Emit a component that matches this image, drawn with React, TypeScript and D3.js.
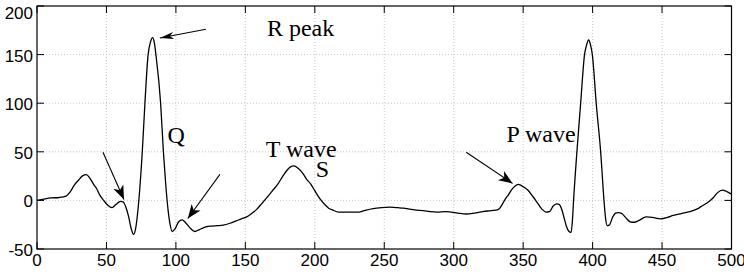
import React from "react";
import * as d3 from "d3";

// sample index and amplitude
const sampleX = [
  0, 4, 10, 16, 21, 24, 27, 30, 33, 35.5, 38, 41, 43, 45, 48, 51, 54, 57, 60, 62,
  64, 66, 68, 69.5, 71, 73, 75.8, 77.7, 80, 81.7, 83.2, 84.5, 85.6, 89, 91, 92.5,
  94, 95.5, 97.4, 99.5, 102, 104.5, 107, 110, 113.5, 117, 120, 124.5, 130, 134,
  139, 143.5, 148, 151, 155, 158, 162, 165, 169, 173.5, 177, 180, 182.5, 185, 188,
  191.5, 194, 197, 200, 203.5, 207, 210, 213, 217, 220, 226, 232, 237, 242, 248,
  254, 260, 264, 268, 273, 278, 283, 288, 294, 298, 303, 309, 315, 321, 327, 332,
  335, 337, 339.5, 341.5, 344, 346.5, 349, 353.5, 357, 360.5, 363.5, 366.5, 369,
  371.5, 374, 376, 377.5, 379.5, 381, 383, 384.5, 385.5, 386.3, 388.7, 391.4,
  394.2, 395.7, 397.1, 398.5, 399.8, 402.6, 405.8, 408.2, 409.3, 410.5, 412,
  414.5, 416.5, 418.5, 421, 424, 427, 430, 433.5, 438.5, 443, 449, 454, 458, 464,
  470, 475, 479, 484, 487, 490, 493.5, 496, 498, 500,
];
const sampleY = [
  0, 1, 2.5, 3, 4.5, 9, 16, 21, 25.5, 26.5, 23, 16, 12, 6, 0, -5, -7.5, -4, -1,
  -1.5, -7, -17, -30, -35, -29, -5, 50, 100, 150, 163, 167.5, 162, 150, 100, 50,
  20, -5, -22, -32, -29, -22, -20, -23, -28, -32, -30, -28, -26.5, -26, -25.5,
  -23.5, -21, -18.5, -17, -13, -9.5, -3, 2, 9, 17, 25, 31, 34.5, 35.5, 33, 27.5,
  22, 17, 10, 2, -4, -8, -10, -12, -12, -12, -12, -10, -8.5, -7.5, -7, -7.5, -8,
  -9, -10, -10.5, -11.5, -12, -11.5, -12, -13, -14, -13, -11.5, -10.5, -9.5, -4,
  1, 6, 10.5, 14.5, 16.5, 15, 10.5, 4, -3, -9, -12, -11.5, -6, -3.5, -4, -8, -18,
  -26, -32, -33, -20, 0, 50, 100, 150, 160, 165, 160, 150, 100, 50, 0, -18, -26,
  -25.5, -17, -13, -12.5, -13.5, -18, -22, -22.5, -20.5, -17, -17.5, -19, -17.5,
  -15.5, -13.5, -11.5, -9, -5.5, -1, 3, 8, 10.5, 9.5, 8, 6.5,
];

const xTicks = [0, 50, 100, 150, 200, 250, 300, 350, 400, 450, 500];
const yTicks = [-50, 0, 50, 100, 150, 200];

// text annotations, data coords (baseline left)
const labels = ["R peak", "Q", "T wave", "S", "P wave"];
const labelX = [165.5, 94, 164.7, 200.7, 338];
const labelY = [169, 58.8, 44.3, 23.7, 59.8];

// arrows: tail -> tip, data coords
const arrowFromX = [121.6, 47.5, 131.7, 309];
const arrowFromY = [176, 49.5, 26.8, 49.5];
const arrowToX = [88.5, 62.6, 108.6, 342.4];
const arrowToY = [167, 1, -18.6, 17.5];
const arrowHeadW = [3.5, 5.5, 5.5, 5.5];

const W = 744;
const H = 276;

export default function App() {
  const x = d3.scaleLinear().domain([0, 500]).range([37, 731.5]);
  const y = d3.scaleLinear().domain([-50, 200]).range([249, 6]);

  const points = sampleX.map((v, i) => [v, sampleY[i]] as [number, number]);
  const line = d3
    .line<[number, number]>()
    .curve(d3.curveMonotoneX)
    .x((d) => x(d[0]))
    .y((d) => y(d[1]));

  const [x0, x1] = x.range();
  const [y0, y1] = y.range();
  const tickLen = 7;

  // arrow head polygon
  const arrowHead = (tx, ty, fx, fy, hw) => {
    const a = Math.atan2(ty - fy, tx - fx);
    const len = 14;
    const bx = tx - len * Math.cos(a);
    const by = ty - len * Math.sin(a);
    const nx = tx - len * 0.72 * Math.cos(a);
    const ny = ty - len * 0.72 * Math.sin(a);
    const px = -Math.sin(a) * hw;
    const py = Math.cos(a) * hw;
    return `M${tx},${ty}L${bx + px},${by + py}L${nx},${ny}L${bx - px},${by - py}Z`;
  };

  return (
    <svg
      width={W}
      height={H}
      style={{ position: "absolute", left: 0, top: 0, background: "#fff" }}
    >
      {/* grid */}
      <g stroke="#b8b8b8" strokeWidth={0.8} strokeDasharray="1 2">
        {xTicks.slice(1, -1).map((t) => (
          <line key={"gx" + t} x1={x(t)} x2={x(t)} y1={y1} y2={y0} />
        ))}
        {yTicks.slice(1, -1).map((t) => (
          <line key={"gy" + t} x1={x0} x2={x1} y1={y(t)} y2={y(t)} />
        ))}
      </g>

      {/* ticks, inward on all sides */}
      <g stroke="#000" strokeWidth={1}>
        {xTicks.map((t) => (
          <g key={"tx" + t}>
            <line x1={x(t)} x2={x(t)} y1={y0} y2={y0 - tickLen} />
            <line x1={x(t)} x2={x(t)} y1={y1} y2={y1 + tickLen} />
          </g>
        ))}
        {yTicks.map((t) => (
          <g key={"ty" + t}>
            <line x1={x0} x2={x0 + tickLen} y1={y(t)} y2={y(t)} />
            <line x1={x1} x2={x1 - tickLen} y1={y(t)} y2={y(t)} />
          </g>
        ))}
      </g>

      <path d={line(points)} fill="none" stroke="#000" strokeWidth={1.3} />

      <rect
        x={x0}
        y={y1}
        width={x1 - x0}
        height={y0 - y1}
        fill="none"
        stroke="#000"
        strokeWidth={1.2}
      />

      {/* tick labels */}
      <g fontFamily="'Liberation Sans', Arial, sans-serif" fontSize={17} fill="#000">
        {xTicks.map((t) => (
          <text key={"lx" + t} x={x(t)} y={y0 + 17} textAnchor="middle">
            {t}
          </text>
        ))}
        {yTicks.map((t) => (
          <text
            key={"ly" + t}
            x={x0 - 4}
            y={Math.max(y(t) + 1.5, 13)}
            textAnchor="end"
            dominantBaseline="central"
          >
            {t}
          </text>
        ))}
      </g>

      {/* annotations */}
      <g fontFamily="'Liberation Serif', 'Times New Roman', serif" fontSize={24} fill="#000">
        {labels.map((s, i) => (
          <text key={s} x={x(labelX[i])} y={y(labelY[i])}>
            {s}
          </text>
        ))}
      </g>
      <g stroke="#000" strokeWidth={1.1}>
        {arrowFromX.map((fx, i) => {
          const ax = x(fx);
          const ay = y(arrowFromY[i]);
          const bx = x(arrowToX[i]);
          const by = y(arrowToY[i]);
          return (
            <g key={"ar" + i}>
              <line x1={ax} y1={ay} x2={bx} y2={by} />
              <path
                d={arrowHead(bx, by, ax, ay, arrowHeadW[i])}
                fill="#000"
                stroke="none"
              />
            </g>
          );
        })}
      </g>
    </svg>
  );
}
